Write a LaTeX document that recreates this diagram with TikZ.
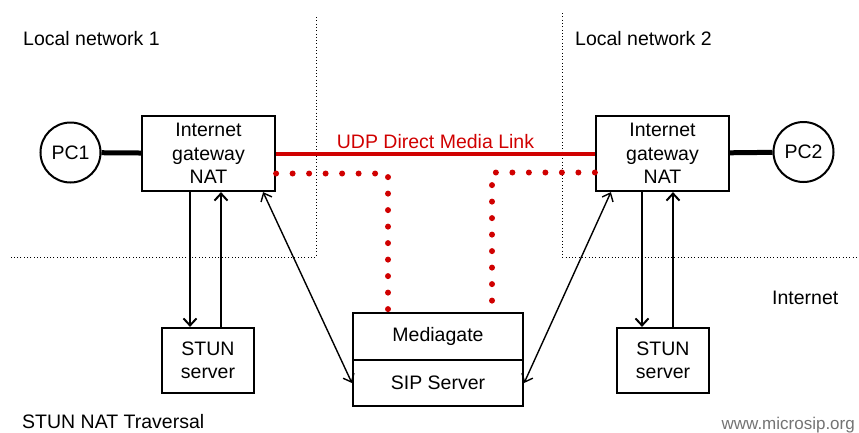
\documentclass[tikz,border=0pt]{standalone}
\usepackage{fontspec}
\setmainfont{Liberation Sans}
\usetikzlibrary{arrows.meta}

\definecolor{udpred}{RGB}{208,0,0}
\tikzstyle{gateway}=[draw, line width=2.2pt, minimum width=133pt, minimum height=75pt, align=center, inner sep=0pt]
\tikzstyle{server}=[draw, line width=2.2pt, minimum width=92pt, minimum height=65pt, align=center, inner sep=0pt]
\tikzstyle{media}=[draw, line width=2.2pt, minimum width=170pt, minimum height=46.5pt, inner sep=0pt]
\tikzstyle{pc}=[draw, circle, line width=2pt, minimum size=60pt, inner sep=0pt]
\tikzstyle{link}=[line width=5pt]
\tikzstyle{udp}=[line width=4pt, udpred]
\tikzstyle{reddots}=[line width=6pt, udpred, line cap=round, dash pattern=on 0pt off 16.5pt]
\tikzstyle{com}=[line width=2pt, -{Straight Barb[length=7pt,width=13pt,line width=2pt]}]
\tikzstyle{sig}=[line width=1.4pt, {Straight Barb[length=7pt,width=12pt,line width=1.4pt]}-{Straight Barb[length=7pt,width=12pt,line width=1.4pt]}]
\tikzstyle{border}=[line width=1pt, dash pattern=on 1pt off 2.3pt]
\tikzstyle{caption}=[anchor=west, inner sep=0pt]

\begin{document}
\begin{tikzpicture}[x=1pt, y=-1pt, font=\fontsize{19.5}{23.5}\selectfont]
      \useasboundingbox (0,0) rectangle (859,432);

      % network borders
      \draw[border] (316,17) |- (10,257);
      \draw[border] (562,13) |- (859,257);

      \node[caption] (ln1) at (23,39) {Local network 1};
      \node[caption] (ln2) at (575,39) {Local network 2};
      \node[caption] (inet) at (772,298) {Internet};
      \node[caption] (title) at (22,422) {STUN NAT Traversal};
      \node[anchor=east, inner sep=0pt, black!55, font=\fontsize{17}{20}\selectfont] (web) at (855,425) {www.microsip.org};

      \node[pc] (pc1) at (70.5,152.5) {PC1};
      \node[pc] (pc2) at (803.5,152) {PC2};
      \node[gateway] (gw1) at (208.5,153.5) {Internet\\gateway\\NAT};
      \node[gateway] (gw2) at (662.5,153.5) {Internet\\gateway\\NAT};
      \node[server] (stun1) at (208,360.5) {STUN\\server};
      \node[server] (stun2) at (663,360.5) {STUN\\server};
      \node[media] (mg) at (438,336.5) {Mediagate};
      \node[media] (sip) at (438,383) {SIP Server};

      \draw[link] (pc1) -- (gw1);
      \draw[link] (pc2) -- (gw2);
      \draw[udp] (gw1.east) -- node[above=3pt, inner sep=0pt] {UDP Direct Media Link} (gw2.west);
      \draw[reddots] ([yshift=-20pt]gw1.east) -| ([xshift=-50pt]mg.north);
      \draw[reddots] ([yshift=-19pt]gw2.west) -| ([xshift=54pt]mg.north);

      \draw[com] ([xshift=-18.5pt]gw1.south) -- ([xshift=-18.5pt]gw1.south |- stun1.north);
      \draw[com] ([xshift=13pt]stun1.north) -- ([xshift=13pt]stun1.north |- gw1.south);
      \draw[com] ([xshift=-20.5pt]gw2.south) -- ([xshift=-20.5pt]gw2.south |- stun2.north);
      \draw[com] ([xshift=10pt]stun2.north) -- ([xshift=10pt]stun2.north |- gw2.south);
      \draw[sig] ([xshift=-13pt]gw1.south east) -- (sip.west);
      \draw[sig] ([xshift=16pt]gw2.south west) -- (sip.east);
    \end{tikzpicture}
\end{document}
